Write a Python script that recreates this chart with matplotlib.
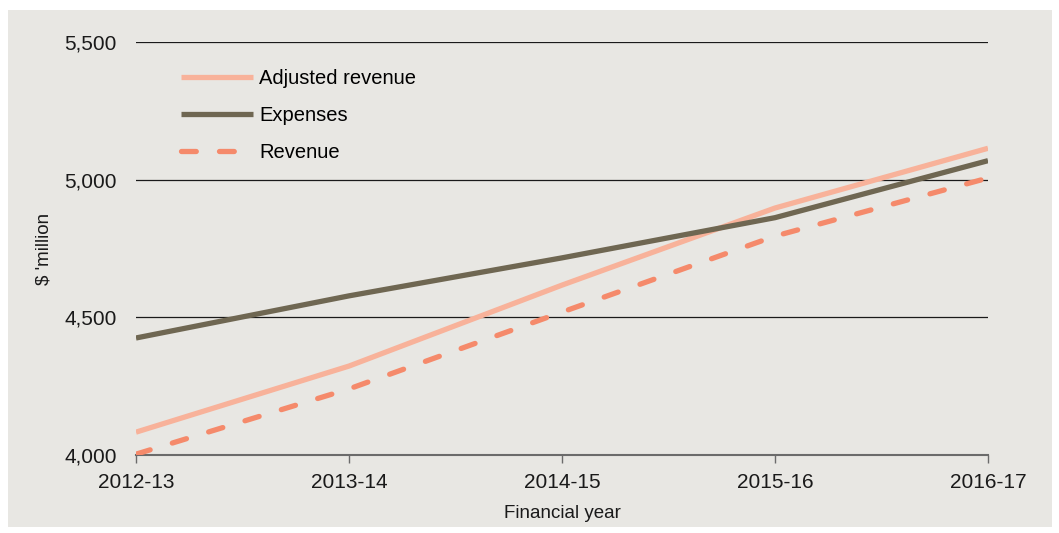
import matplotlib.pyplot as plt
from matplotlib.patches import Rectangle

years = ['2012-13', '2013-14', '2014-15', '2015-16', '2016-17']
adjusted_revenue = [4083, 4323, 4617, 4897, 5114]
expenses = [4425, 4578, 4716, 4862, 5069]
revenue = [4003, 4240, 4519, 4795, 5006]

plt.rcParams['font.family'] = ['Liberation Sans', 'DejaVu Sans']

fig = plt.figure(figsize=(10.59, 5.33), dpi=100)
fig.patch.set_facecolor('white')
fig.patches.append(Rectangle((8 / 1059, 6 / 533), 1044 / 1059, 517 / 533,
                             transform=fig.transFigure, facecolor='#e8e7e3',
                             edgecolor='none', zorder=-10))

ax = fig.add_axes([136 / 1059, 1 - 455 / 533, 852 / 1059, 413 / 533])
ax.set_facecolor('none')

x = range(len(years))
ax.plot(x, adjusted_revenue, color='#f8b29a', lw=3.8, solid_capstyle='butt',
        label='Adjusted revenue', zorder=3)
ax.plot(x, expenses, color='#6f6752', lw=3.8, solid_capstyle='butt',
        label='Expenses', zorder=3)
ax.plot(x, revenue, color='#f58a6b', lw=3.8, dashes=(2.8, 4.4),
        dash_capstyle='round', label='Revenue', zorder=3)

ax.set_xlim(0, len(years) - 1)
ax.set_ylim(4000, 5500)
ax.set_yticks([4000, 4500, 5000, 5500])
ax.set_yticklabels(['4,000', '4,500', '5,000', '5,500'])
ax.set_xticks(list(x))
ax.set_xticklabels(years)

ax.grid(axis='y', color='#1a1a1a', lw=0.9, zorder=1)
ax.set_axisbelow(True)
for s in ['left', 'right', 'top']:
    ax.spines[s].set_visible(False)
ax.spines['bottom'].set_color('#6b6b6b')
ax.spines['bottom'].set_linewidth(1.5)
ax.tick_params(axis='y', length=0, pad=14, labelsize=15, colors='#1a1a1a')
ax.tick_params(axis='x', length=6, width=1, color='#6b6b6b', pad=7,
               labelsize=15, labelcolor='#1a1a1a')

ax.set_ylabel("$ 'million", fontsize=13.5, color='#1a1a1a', labelpad=8)
ax.set_xlabel('Financial year', fontsize=13.5, color='#1a1a1a', labelpad=9)

leg = ax.legend(loc='upper left', bbox_to_anchor=(0.031, 0.978), frameon=False,
                fontsize=14.5, handlelength=3.6, handletextpad=0.3,
                labelspacing=0.9)

fig.savefig('out.png', dpi=100)
